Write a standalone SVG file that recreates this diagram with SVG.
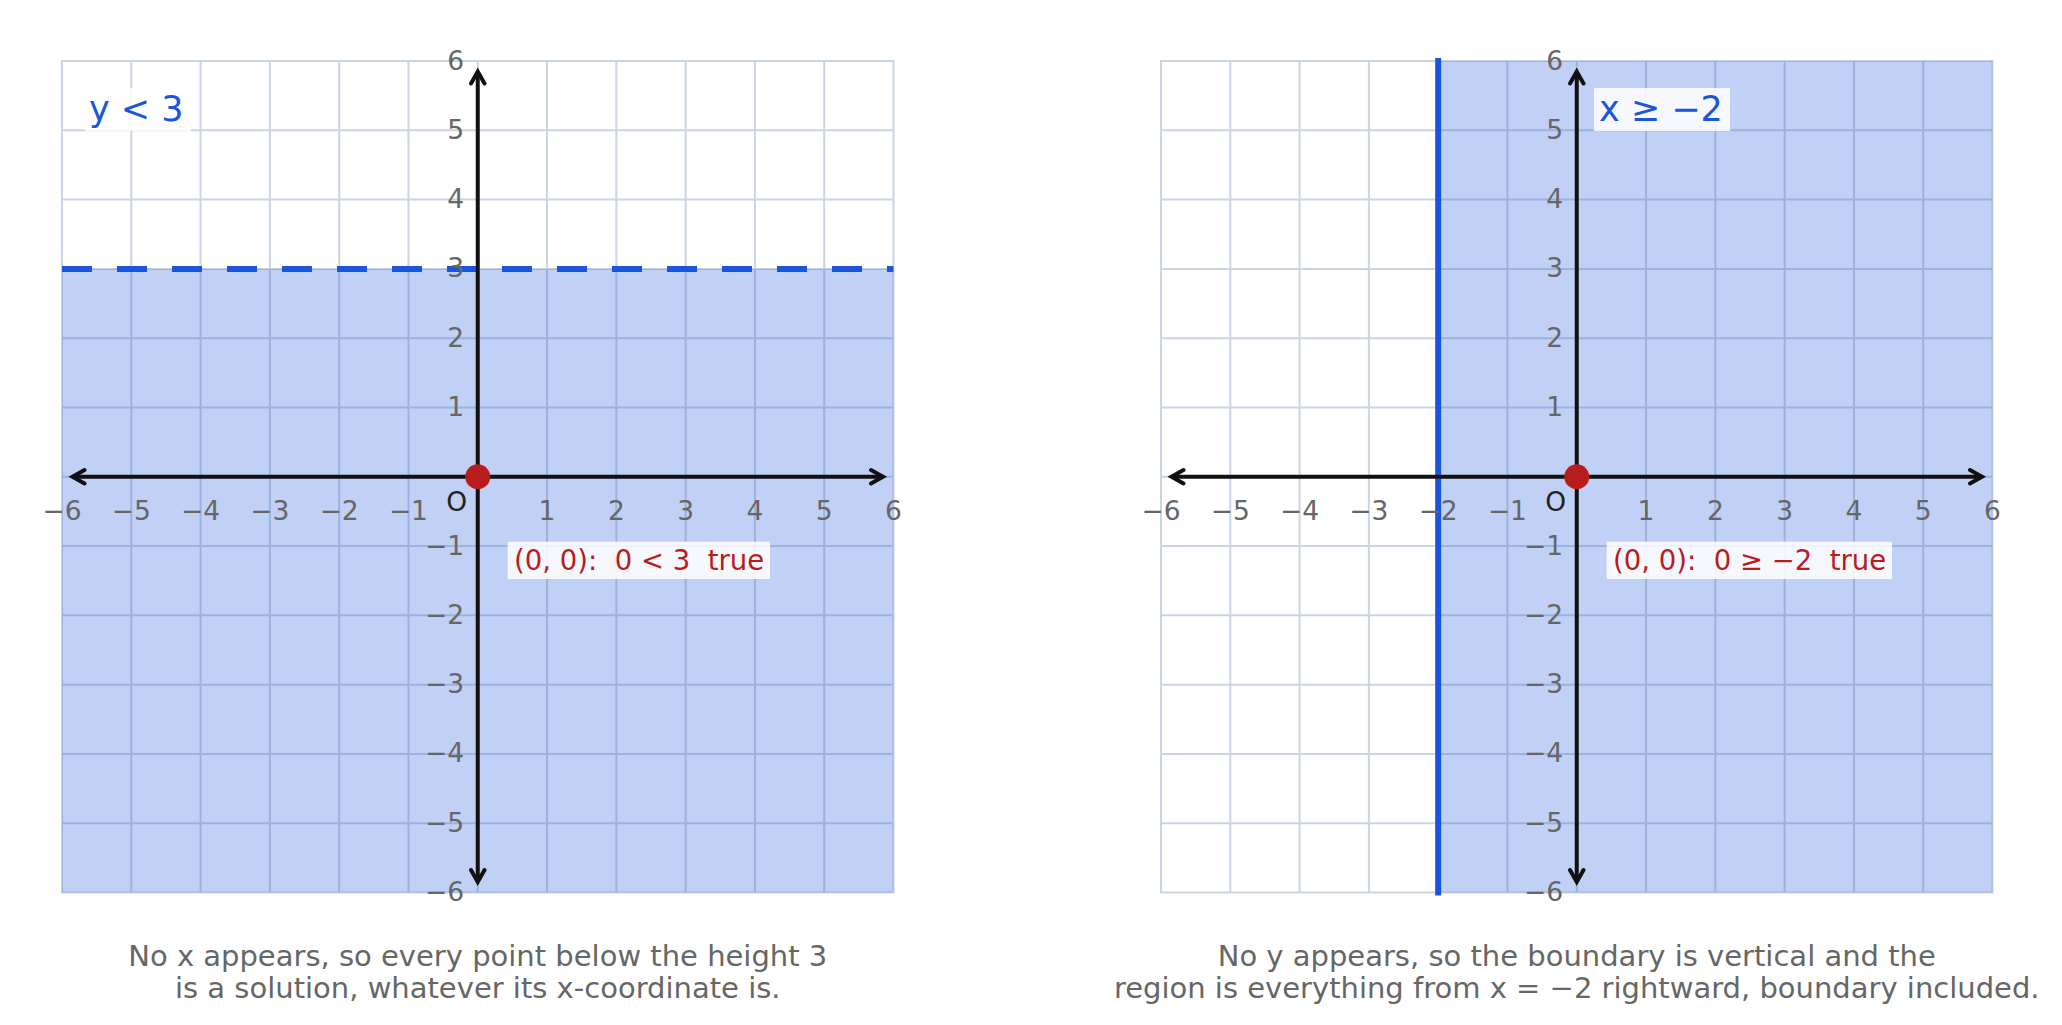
<svg xmlns="http://www.w3.org/2000/svg" xmlns:xlink="http://www.w3.org/1999/xlink" width="2062" height="1025" viewBox="0 0 2062 1025">
<style>
text{font-family:"DejaVu Sans","Liberation Sans",sans-serif}
.grid{fill:none;stroke:#cbd5e1;stroke-width:2}
.shade{fill:#1a56db;fill-opacity:0.27}
.bound{stroke:#1a56db;stroke-width:6;fill:none}
.axis{stroke:#111;stroke-width:4;fill:none}
.head{stroke:#111;stroke-width:4;fill:none;stroke-linecap:round;stroke-linejoin:miter}
.tick{font-size:26.5px;fill:#666}
.tx{text-anchor:middle}
.ty{text-anchor:end}
.orig{font-size:26.5px;fill:#222;text-anchor:middle}
.lblbox{fill:#fff;fill-opacity:0.85}
.ineq{font-size:35px;fill:#1a56db}
.test{font-size:27.5px;fill:#b91c1c}
.dot{fill:#b91c1c}
.cap{font-size:29px;fill:#666;text-anchor:middle}
</style>
<defs>
<g id="grid">
<path class="grid" d="M69.29 0V831.5M138.58 0V831.5M207.88 0V831.5M277.17 0V831.5M346.46 0V831.5M415.75 0V831.5M485.04 0V831.5M554.33 0V831.5M623.63 0V831.5M692.92 0V831.5M762.21 0V831.5M0 69.29H831.5M0 138.58H831.5M0 207.88H831.5M0 277.17H831.5M0 346.46H831.5M0 415.75H831.5M0 485.04H831.5M0 554.33H831.5M0 623.63H831.5M0 692.92H831.5M0 762.21H831.5"/>
<rect class="grid" x="0" y="0" width="831.5" height="831.5"/>
</g>
<g id="axes">
<path class="axis" d="M10.5 415.75H821M415.75 10.5V821"/>
<path class="head" d="M22.5 409L10.5 415.75L22.5 422.5M809 409L821 415.75L809 422.5M409 22.5L415.75 10.5L422.5 22.5M409 809L415.75 821L422.5 809"/>
</g>
<g id="ticks">
<g class="tick tx">
<text x="0" y="459">−6</text><text x="69.29" y="459">−5</text><text x="138.58" y="459">−4</text><text x="207.88" y="459">−3</text><text x="277.17" y="459">−2</text><text x="346.46" y="459">−1</text>
<text x="485.04" y="459">1</text><text x="554.33" y="459">2</text><text x="623.63" y="459">3</text><text x="692.92" y="459">4</text><text x="762.21" y="459">5</text><text x="831.5" y="459">6</text>
</g>
<g class="tick ty">
<text x="402" y="8.5">6</text><text x="402" y="77.8">5</text><text x="402" y="147.1">4</text><text x="402" y="216.4">3</text><text x="402" y="285.7">2</text><text x="402" y="355">1</text>
<text x="402" y="493.5">−1</text><text x="402" y="562.8">−2</text><text x="402" y="632.1">−3</text><text x="402" y="701.4">−4</text><text x="402" y="770.7">−5</text><text x="402" y="840">−6</text>
</g>
<text class="orig" x="394.7" y="450">O</text>
</g>
</defs>

<g id="panel-left" transform="translate(62,61)">
<use xlink:href="#grid"/>
<rect class="shade" x="0" y="207.88" width="831.5" height="623.62"/>
<line class="bound" x1="0" y1="207.88" x2="831.5" y2="207.88" stroke-dasharray="30 25"/>
<use xlink:href="#axes"/>
<use xlink:href="#ticks"/>
<g id="label-left-ineq">
<rect class="lblbox" x="23" y="27" width="106" height="43"/>
<text class="ineq" x="27" y="60">y &lt; 3</text>
</g>
<circle class="dot" cx="415.75" cy="415.75" r="12.5"/>
<g id="label-left-test">
<rect class="lblbox" x="445.7" y="480.7" width="262.3" height="37.3"/>
<text class="test" x="452" y="509" xml:space="preserve">(0, 0):  0 &lt; 3  true</text>
</g>
</g>

<g id="panel-right" transform="translate(1161,61)">
<use xlink:href="#grid"/>
<rect class="shade" x="277.17" y="0" width="554.33" height="831.5"/>
<line class="bound" x1="277.17" y1="-3" x2="277.17" y2="834.5"/>
<use xlink:href="#axes"/>
<use xlink:href="#ticks"/>
<g id="label-right-ineq">
<rect class="lblbox" x="433" y="27" width="136" height="43"/>
<text class="ineq" x="438" y="59.5">x ≥ −2</text>
</g>
<circle class="dot" cx="415.75" cy="415.75" r="12.5"/>
<g id="label-right-test">
<rect class="lblbox" x="445.7" y="480.7" width="285.3" height="37.3"/>
<text class="test" x="452" y="509" xml:space="preserve">(0, 0):  0 ≥ −2  true</text>
</g>
</g>

<g id="captions">
<text class="cap" x="477.75" y="966">No x appears, so every point below the height 3</text>
<text class="cap" x="477.75" y="998">is a solution, whatever its x-coordinate is.</text>
<text class="cap" x="1576.75" y="966">No y appears, so the boundary is vertical and the</text>
<text class="cap" x="1576.75" y="998">region is everything from x = −2 rightward, boundary included.</text>
</g>
</svg>
